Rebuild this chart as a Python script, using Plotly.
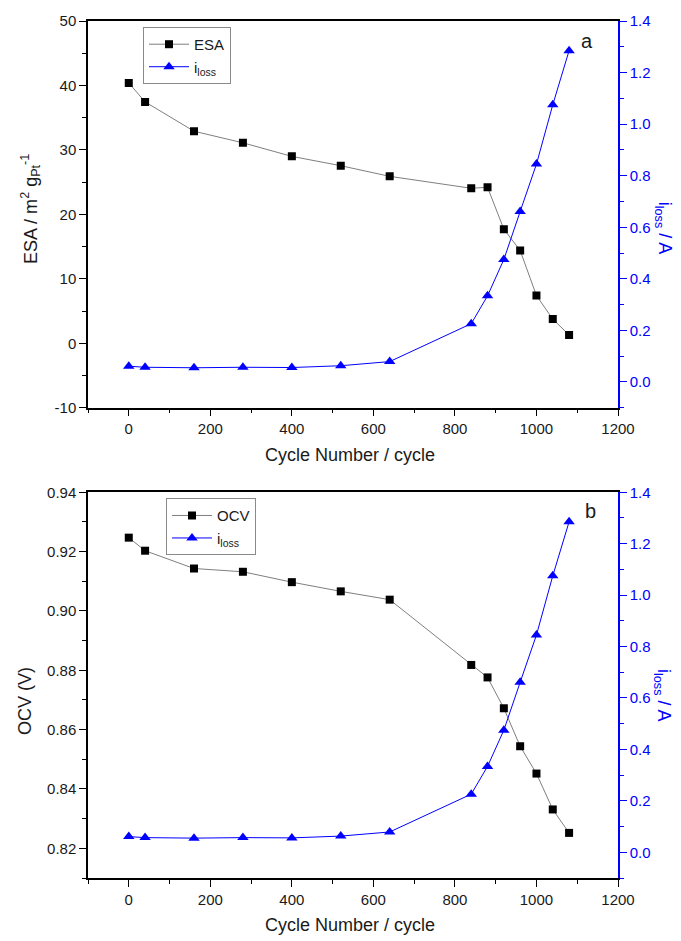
import plotly.graph_objects as go

# Cycling data
cycles = [0, 40, 160, 280, 400, 520, 640, 840, 880, 920, 960, 1000, 1040, 1080]
esa = [40.4, 37.45, 32.9, 31.1, 29.0, 27.55, 25.9, 24.05, 24.2, 17.7, 14.4, 7.4, 3.75, 1.3]
ocv = [0.9247, 0.9203, 0.9143, 0.9132, 0.9097, 0.9066, 0.9038, 0.8818, 0.8776, 0.8672,
       0.8544, 0.8452, 0.8331, 0.8252]
i_loss = [0.061, 0.057, 0.055, 0.057, 0.056, 0.063, 0.079, 0.226, 0.334, 0.475,
          0.661, 0.845, 1.075, 1.285]

x_ticks = [0, 200, 400, 600, 800, 1000, 1200]
esa_ticks = [-10, 0, 10, 20, 30, 40, 50]
esa_ticktext = ["-10", "0", "10", "20", "30", "40", "50"]

W, H = 681, 941
ML, MR, MT, MB = 88, 63, 16, 63
PW = W - ML - MR
PH = H - MT - MB


def px_x(x):
    return (x - ML) / PW


def px_y(y):
    return (H - MB - y) / PH


FONT = "Liberation Sans, Arial, sans-serif"
BLUE = "#0000FF"
TXT = "#1a1a1a"

fig = go.Figure()

line_gray = dict(color="#7f7f7f", width=1)
line_blue = dict(color=BLUE, width=1)
sq = dict(symbol="square", size=8, color="black")
tri = dict(symbol="triangle-up", size=10, color=BLUE)

fig.add_trace(go.Scatter(x=cycles, y=esa, name="ESA", mode="lines+markers",
                         line=line_gray, marker=sq, xaxis="x", yaxis="y", legend="legend"))
fig.add_trace(go.Scatter(x=cycles, y=i_loss, name="i<sub>loss</sub>", mode="lines+markers",
                         line=line_blue, marker=tri, xaxis="x", yaxis="y2", legend="legend"))
fig.add_trace(go.Scatter(x=cycles, y=ocv, name="OCV", mode="lines+markers",
                         line=line_gray, marker=sq, xaxis="x2", yaxis="y3", legend="legend2"))
fig.add_trace(go.Scatter(x=cycles, y=i_loss, name="i<sub>loss</sub>", mode="lines+markers",
                         line=line_blue, marker=tri, xaxis="x2", yaxis="y4", legend="legend2"))

tickfont = dict(family=FONT, size=15, color=TXT)
tickfont_b = dict(family=FONT, size=15, color=BLUE)


def xaxis(anchor):
    return dict(domain=[0, 1], anchor=anchor, range=[-100, 1200], tickvals=x_ticks,
                showline=True, linecolor="black", linewidth=1.5, mirror=True,
                ticks="outside", ticklen=7, tickwidth=1.2, tickcolor="black",
                minor=dict(dtick=100, tick0=0, ticks="outside", ticklen=4, tickcolor="black"),
                showgrid=False, zeroline=False, tickfont=tickfont)


def yleft(domain, rng, dtick, minor, fmt):
    return dict(domain=domain, range=rng, dtick=dtick, tick0=0, tickformat=fmt,
                showline=True, linecolor="black", linewidth=1.5,
                ticks="outside", ticklen=7, tickwidth=1.2, tickcolor="black",
                minor=dict(dtick=minor, ticks="outside", ticklen=4, tickcolor="black"),
                showgrid=False, zeroline=False, tickfont=tickfont)


def yright(over, anchor):
    return dict(overlaying=over, anchor=anchor, side="right", range=[-0.1, 1.4],
                dtick=0.2, tick0=0, tickformat=".1f",
                showline=True, linecolor=BLUE, linewidth=1.5,
                ticks="outside", ticklen=7, tickwidth=1.2, tickcolor=BLUE,
                minor=dict(dtick=0.1, ticks="outside", ticklen=4, tickcolor=BLUE),
                showgrid=False, zeroline=False, tickfont=tickfont_b)


top_dom = [px_y(405), 1]
bot_dom = [0, px_y(490)]

legend_style = dict(bgcolor="white", bordercolor="#8a8a8a", borderwidth=1,
                    font=dict(family=FONT, size=15, color=TXT),
                    xanchor="left", yanchor="top", tracegroupgap=0, itemwidth=40)

yaxis_top = yleft(top_dom, [-10, 50], 10, 5, "d")
yaxis_top.update(tickvals=esa_ticks, ticktext=esa_ticktext)

fig.update_layout(
    width=W, height=H,
    margin=dict(l=ML, r=MR, t=MT, b=MB),
    paper_bgcolor="white", plot_bgcolor="white",
    xaxis=xaxis("y"),
    yaxis=yaxis_top,
    yaxis2=yright("y", "x"),
    xaxis2=xaxis("y3"),
    yaxis3=yleft(bot_dom, [0.81, 0.94], 0.02, 0.01, ".2f"),
    yaxis4=yright("y3", "x2"),
    legend=dict(x=px_x(143), y=px_y(22), **legend_style),
    legend2=dict(x=px_x(166), y=px_y(496), **legend_style),
    showlegend=True,
)

ann = []
title_font = dict(family=FONT, size=18, color=TXT)
blue_title = dict(family=FONT, size=18, color=BLUE)
for yc in (453, 925):
    ann.append(dict(text="Cycle Number / cycle", x=px_x(350), y=px_y(yc), xref="paper", yref="paper",
                    showarrow=False, font=title_font, xanchor="center", yanchor="middle"))
ann.append(dict(text="ESA / m<sup>2</sup> g<sub>Pt</sub><sup>-1</sup>", x=px_x(31), y=px_y(205),
                xref="paper", yref="paper", showarrow=False, textangle=-90, font=title_font,
                xanchor="center", yanchor="middle"))
ann.append(dict(text="OCV (V)", x=px_x(25), y=px_y(700), xref="paper", yref="paper",
                showarrow=False, textangle=-90, font=title_font, xanchor="center", yanchor="middle"))
for yc in (224, 694):
    ann.append(dict(text="i<sub>loss</sub> / A", x=px_x(663), y=px_y(yc), xref="paper", yref="paper",
                    showarrow=False, textangle=90, font=blue_title, xanchor="center", yanchor="middle"))
ann.append(dict(text="a", x=px_x(587), y=px_y(36), xref="paper", yref="paper", showarrow=False,
                font=dict(family=FONT, size=20, color=TXT), xanchor="center", yanchor="middle"))
ann.append(dict(text="b", x=px_x(590), y=px_y(509), xref="paper", yref="paper", showarrow=False,
                font=dict(family=FONT, size=20, color=TXT), xanchor="center", yanchor="middle"))
fig.update_layout(annotations=ann)

fig.write_html("out.html")
